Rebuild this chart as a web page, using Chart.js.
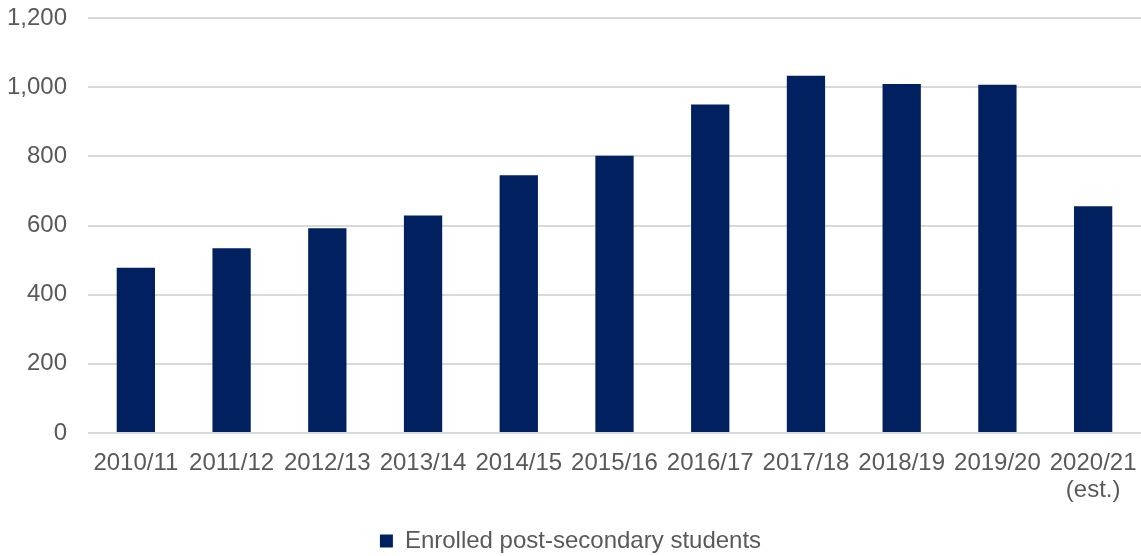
<!DOCTYPE html>
<html>
<head>
<meta charset="utf-8">
<script src="https://cdn.jsdelivr.net/npm/chart.js@4"></script>
<style>
  html, body { margin: 0; padding: 0; background: #fff; }
  #wrap { width: 1141px; height: 556px; }
</style>
</head>
<body>
<div id="wrap"><canvas id="enrol"></canvas></div>
<script>
// data
const years = ['2010/11','2011/12','2012/13','2013/14','2014/15','2015/16','2016/17','2017/18','2018/19','2019/20',['2020/21','(est.)']];
const students = [478,534,592,629,745,802,950,1033,1009,1007,656];
const yTicks = [0,200,400,600,800,1000,1200];

const grey = '#595959';
const font = { family: "'Liberation Sans', Arial, sans-serif", size: 24 };

const enrolChart = document.getElementById('enrol').getContext('2d');
const enrol = new Chart(enrolChart, {
    type: 'bar',
    data: {
        labels: years,
        datasets: [{
            label: 'Enrolled post-secondary students',
            data: students,
            backgroundColor: '#002060',
            borderWidth: 0,
            categoryPercentage: 1,
            barPercentage: 0.4
        }]
    },
    options: {
        responsive: true,
        maintainAspectRatio: false,
        animation: false,
        layout: { padding: { top: 0, left: 0, right: 0, bottom: -7 } },
        plugins: {
            legend: {
                position: 'bottom',
                labels: {
                    color: grey,
                    font: font,
                    boxWidth: 13,
                    boxHeight: 13,
                    padding: 2
                }
            },
            tooltip: { enabled: false }
        },
        scales: {
            x: {
                afterFit: axis => { axis.height = 94; axis.paddingRight = 0; axis.paddingLeft = 0; },
                grid: { display: false },
                border: { display: false },
                ticks: { color: grey, font: Object.assign({ lineHeight: 1.12 }, font), padding: 9, maxRotation: 0, autoSkip: false }
            },
            y: {
                min: 0,
                max: 1200,
                afterBuildTicks: axis => { axis.ticks = yTicks.map(v => ({ value: v })); },
                afterFit: axis => { axis.width = 88; axis.paddingTop = 18; axis.paddingBottom = 0; },
                grid: { color: '#d9d9d9', lineWidth: 2, drawTicks: false },
                border: { display: false },
                ticks: {
                    color: grey,
                    font: font,
                    padding: 21,
                    callback: v => v.toLocaleString('en-US')
                }
            }
        }
    }
});
</script>
</body>
</html>
